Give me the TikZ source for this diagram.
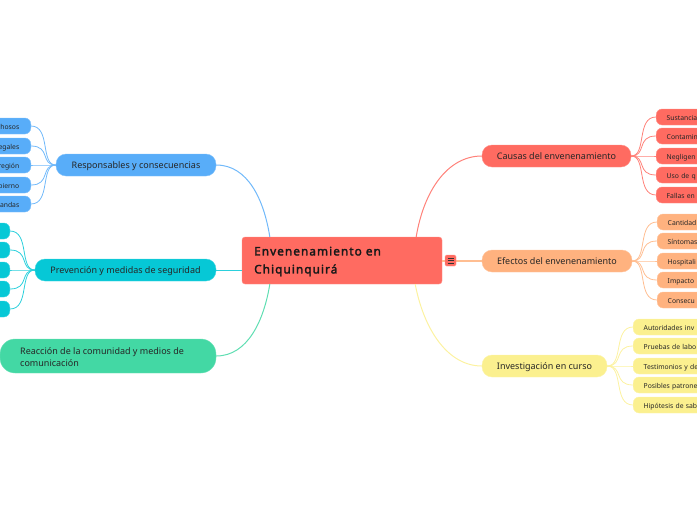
\documentclass[tikz,border=0pt]{standalone}
\usepackage{fontspec}
\setmainfont{Noto Sans}
\newfontfamily\titlefont[LetterSpace=9,FakeBold=2.4]{Noto Sans}
\usepackage{tikz}
\definecolor{mainred}{HTML}{FF6B61}
\definecolor{resblue}{HTML}{58ADF9}
\definecolor{precyan}{HTML}{06C8D6}
\definecolor{reagreen}{HTML}{43D8A4}
\definecolor{effpeach}{HTML}{FFB27F}
\definecolor{invyellow}{HTML}{FBF08F}
\tikzset{
    topic/.style={draw=#1!75!white, fill=#1, rounded corners=10pt, minimum height=22pt, inner sep=0pt, text height=7.5pt, text depth=0.5pt, font=\fontsize{9}{12}\selectfont, text=black!85}, % ramas principales
    leafr/.style={draw=#1!75!white, fill=#1, rounded corners=6pt, minimum height=16pt, anchor=west, text width=70pt, align=left, inner xsep=10.5pt, inner ysep=0pt, text height=6pt, text depth=0pt, font=\fontsize{6.8}{8}\selectfont, text=black!85}, % hojas de la derecha
    leafl/.style={draw=#1!75!white, fill=#1, rounded corners=6pt, minimum height=16pt, anchor=east, text width=50pt, align=right, inner xsep=11.5pt, inner ysep=0pt, text height=6pt, text depth=0pt, font=\fontsize{6.8}{8}\selectfont, text=black!85}, % hojas de la izquierda
    link/.style={draw=#1!85!white, line width=1pt} % conectores
}

\begin{document}
\begin{tikzpicture}[x=1pt, y=-1pt]
    \useasboundingbox (0,0) rectangle (697,520);
    \clip (0,0) rectangle (697,520);

    \node[draw=mainred!75!white, fill=mainred, rounded corners=3pt, minimum width=200pt, minimum height=47pt, inner sep=0pt] (main) at (342,260.5) {};
    \node[anchor=west, align=left, inner sep=0pt, font=\titlefont\fontsize{11.8}{18}\selectfont, text=black!90] (title) at (254,261.5) {Envenenamiento en\\Chiquinquirá};

    \node[topic=resblue, minimum width=160pt] (res) at (136,165) {Responsables y consecuencias};
    \node[topic=precyan, minimum width=181pt] (pre) at (125.5,270) {Prevención y medidas de seguridad};
    \node[topic=reagreen, rounded corners=15pt, minimum width=216pt, minimum height=34pt] (rea) at (108,356) {};
    \node[anchor=west, align=left, inner sep=0pt, font=\fontsize{9}{12.4}\selectfont, text=black!85] (reatext) at (20,357) {Reacción de la comunidad y medios de\\comunicación};
    \node[topic=mainred, minimum width=149pt] (cau) at (556.5,156) {Causas del envenenamiento};
    \node[topic=effpeach, minimum width=150pt] (eff) at (557,261) {Efectos del envenenamiento};
    \node[topic=invyellow, minimum width=125pt] (inv) at (544.5,366) {Investigación en curso};

    % conectores desde el nodo central
    \draw[link=resblue] (res.east) .. controls (248,165) and (264,200) .. ([xshift=28pt]main.north west);
    \draw[link=precyan] (pre.east) -- (main.west |- pre.east);
    \draw[link=reagreen] (rea.east) .. controls (248,356) and (264,320) .. ([xshift=28pt]main.south west);
    \draw[link=mainred] (cau.west) .. controls (448,156) and (424,190) .. ([xshift=-26pt]main.north east);
    \draw[link=invyellow] (inv.west) .. controls (448,366) and (424,330) .. ([xshift=-27pt]main.south east);
    \draw[link=effpeach, line width=1.5pt] (main.east |- eff.west) -- (eff.west);

    % icono de la rama plegada
    \node[draw=mainred!75!white, fill=mainred, rounded corners=1.5pt, minimum size=11pt, inner sep=0pt] (menu) at (450.5,260.5) {};
    \foreach \y in {-2.5,0,2.5} {\draw[black!80, line width=0.8pt] ([shift={(-3,\y)}]menu.center) -- ([shift={(3,\y)}]menu.center);}

    % hojas de cada rama
    \foreach \i/\y/\txt in {1/117/Sustancia,2/136/Contamin,3/156/Negligen,4/175/Uso de q,5/195/Fallas en} {
        \node[leafr=mainred] (cau\i) at (656,\y) {\txt};
        \draw[link=mainred, line width=0.8pt] (cau.east) .. controls (647,156) and (636,\y) .. (cau\i.west);
    }
    \foreach \i/\y/\txt in {1/222/Cantidad,2/241/Síntomas,3/261/Hospitali,4/280/Impacto,5/300/Consecu} {
        \node[leafr=effpeach] (eff\i) at (657,\y) {\txt};
        \draw[link=effpeach, line width=0.8pt] (eff.east) .. controls (648,261) and (637,\y) .. (eff\i.west);
    }
    \foreach \i/\y/\txt in {1/327/Autoridades inv,2/346/Pruebas de labo,3/366/Testimonios y de,4/385/Posibles patrone,5/405/Hipótesis de sab} {
        \node[leafr=invyellow] (inv\i) at (633,\y) {\txt};
        \draw[link=invyellow, line width=0.8pt] (inv.east) .. controls (624,366) and (613,\y) .. (inv\i.west);
    }
    \foreach \i/\y/\txt in {1/126/hosos,2/146/egales,3/165/región,4/185/bierno,5/204/andas} {
        \node[leafl=resblue] (res\i) at (31,\y) {\txt};
        \draw[link=resblue, line width=0.8pt] (res.west) .. controls (40,165) and (51,\y) .. (res\i.east);
    }
    \foreach \i/\y in {1/231,2/250,3/270,4/289,5/309} {
        \node[leafl=precyan] (pre\i) at (10,\y) {};
        \draw[link=precyan, line width=0.8pt] (pre.west) .. controls (19,270) and (30,\y) .. (pre\i.east);
    }
\end{tikzpicture}
\end{document}
